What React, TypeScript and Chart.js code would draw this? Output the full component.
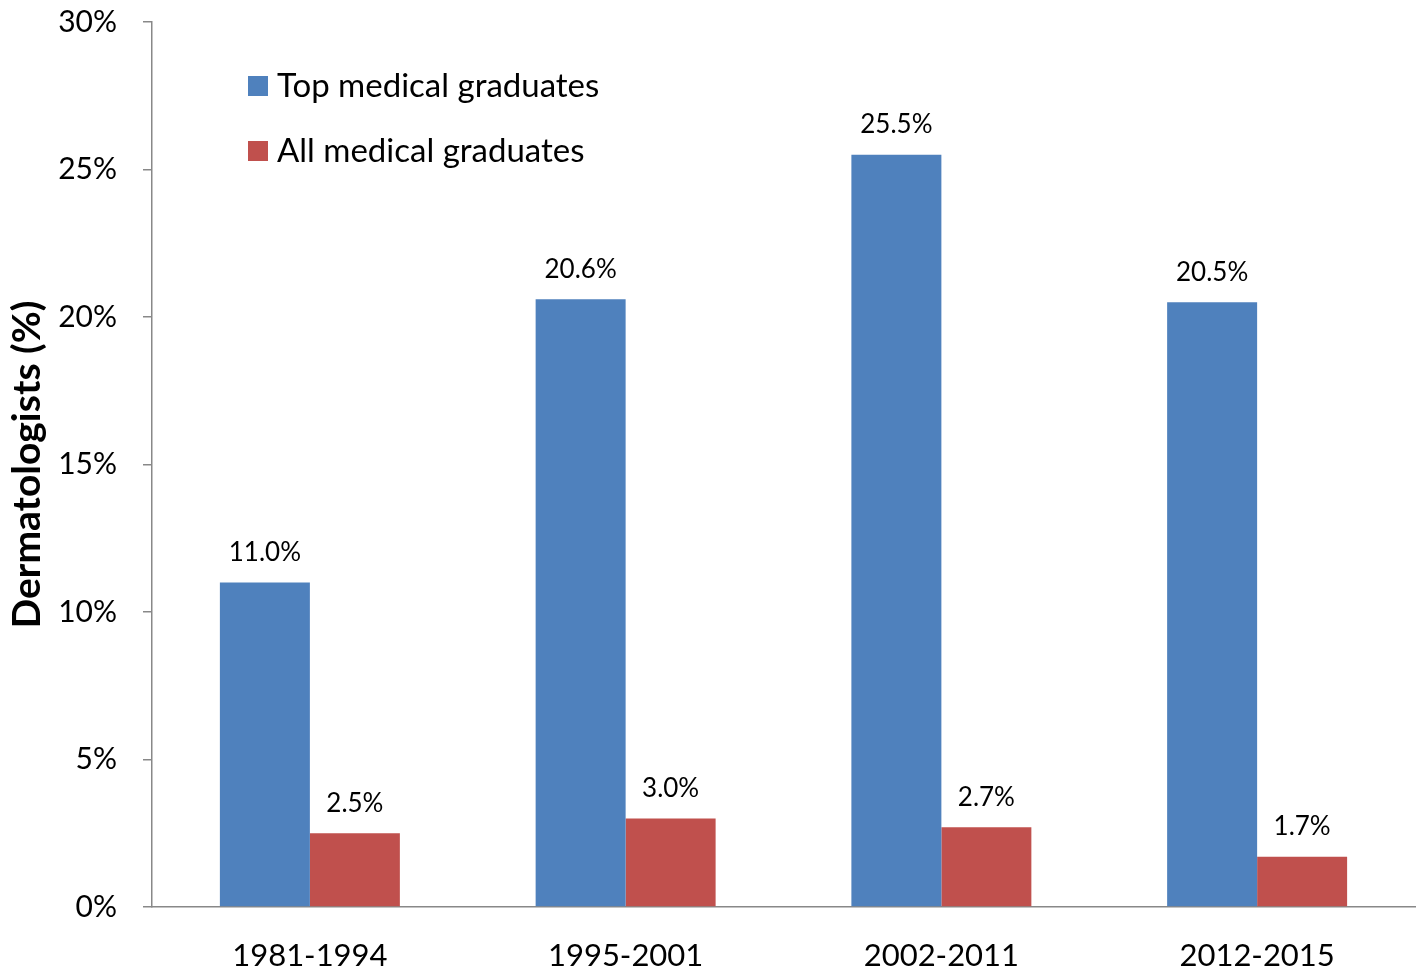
import React, { useEffect, useRef } from "react";
import { Chart, registerables } from "chart.js";

Chart.register(...registerables);

const categories = ["1981-1994", "1995-2001", "2002-2011", "2012-2015"];
const topGraduates = [11.0, 20.6, 25.5, 20.5];
const allGraduates = [2.5, 3.0, 2.7, 1.7];
const seriesNames = ["Top medical graduates", "All medical graduates"];
const seriesColors = ["#4F81BD", "#C0504D"];
const yTickValues = [0, 5, 10, 15, 20, 25, 30];
const yTitle = "Dermatologists (%)";

const FONT = "Lato, 'Open Sans', sans-serif";

const labelPlugin = {
  id: "valueLabels",
  afterDatasetsDraw(chart: any) {
    const ctx = chart.ctx;
    ctx.save();
    ctx.font = `26px ${FONT}`;
    ctx.fillStyle = "#000";
    ctx.textAlign = "center";
    ctx.textBaseline = "middle";
    chart.data.datasets.forEach((ds: any, di: number) => {
      const meta = chart.getDatasetMeta(di);
      meta.data.forEach((bar: any, i: number) => {
        const v = ds.data[i];
        ctx.fillText(v.toFixed(1) + "%", bar.x, bar.y - 30);
      });
    });
    ctx.restore();
  },
};

const legendPlugin = {
  id: "innerLegend",
  afterDraw(chart: any) {
    const ctx = chart.ctx;
    ctx.save();
    ctx.font = `33px ${FONT}`;
    ctx.textAlign = "left";
    ctx.textBaseline = "middle";
    const x0 = chart.chartArea.left + 96;
    const y0 = 86;
    seriesNames.forEach((name, i) => {
      const y = y0 + i * 65;
      ctx.fillStyle = seriesColors[i];
      ctx.fillRect(x0, y - 10, 20, 20);
      ctx.fillStyle = "#000";
      ctx.fillText(name, x0 + 29, y);
    });
    ctx.restore();
  },
};

export default function App() {
  const ref = useRef<HTMLCanvasElement>(null);
  useEffect(() => {
    document.body.style.margin = "0";
    const chart = new Chart(ref.current!, {
      type: "bar",
      data: {
        labels: categories,
        datasets: [
          {
            label: seriesNames[0],
            data: topGraduates,
            backgroundColor: seriesColors[0],
            categoryPercentage: 0.57,
            barPercentage: 1,
          },
          {
            label: seriesNames[1],
            data: allGraduates,
            backgroundColor: seriesColors[1],
            categoryPercentage: 0.57,
            barPercentage: 1,
          },
        ],
      },
      options: {
        animation: false,
        responsive: false,
        maintainAspectRatio: false,
        layout: { padding: { top: 22, right: 3, left: 0, bottom: 0 } },
        plugins: {
          legend: { display: false },
          tooltip: { enabled: false },
        },
        scales: {
          x: {
            grid: { display: false, drawTicks: false },
            border: { display: true, color: "#888", width: 1.5 },
            ticks: {
              color: "#000",
              font: { family: FONT, size: 31 },
              padding: 30,
            },
            afterFit: (s: any) => {
              s.height = 68;
              s.paddingLeft = 0;
              s.paddingRight = 0;
            },
          },
          y: {
            min: 0,
            max: 30,
            afterBuildTicks: (s: any) => {
              s.ticks = yTickValues.map((v) => ({ value: v }));
            },
            grid: {
              drawOnChartArea: false,
              drawTicks: true,
              tickLength: 9,
              color: "#888",
              lineWidth: 1.5,
            },
            border: { display: true, color: "#888", width: 1.5 },
            ticks: {
              color: "#000",
              font: { family: FONT, size: 30 },
              padding: 26,
              callback: (v: any) => v + "%",
            },
            title: {
              display: true,
              text: yTitle,
              color: "#000",
              font: { family: FONT, size: 39, weight: "bold" },
              padding: { top: 4, bottom: 0 },
            },
            afterFit: (s: any) => {
              s.width = 152;
              s.paddingTop = 0;
              s.paddingBottom = 0;
            },
          },
        },
      },
      plugins: [labelPlugin, legendPlugin],
    });
    return () => chart.destroy();
  }, []);
  return (
    <div style={{ width: 1418, height: 975, background: "#fff" }}>
      <canvas ref={ref} width={1418} height={975} />
    </div>
  );
}
